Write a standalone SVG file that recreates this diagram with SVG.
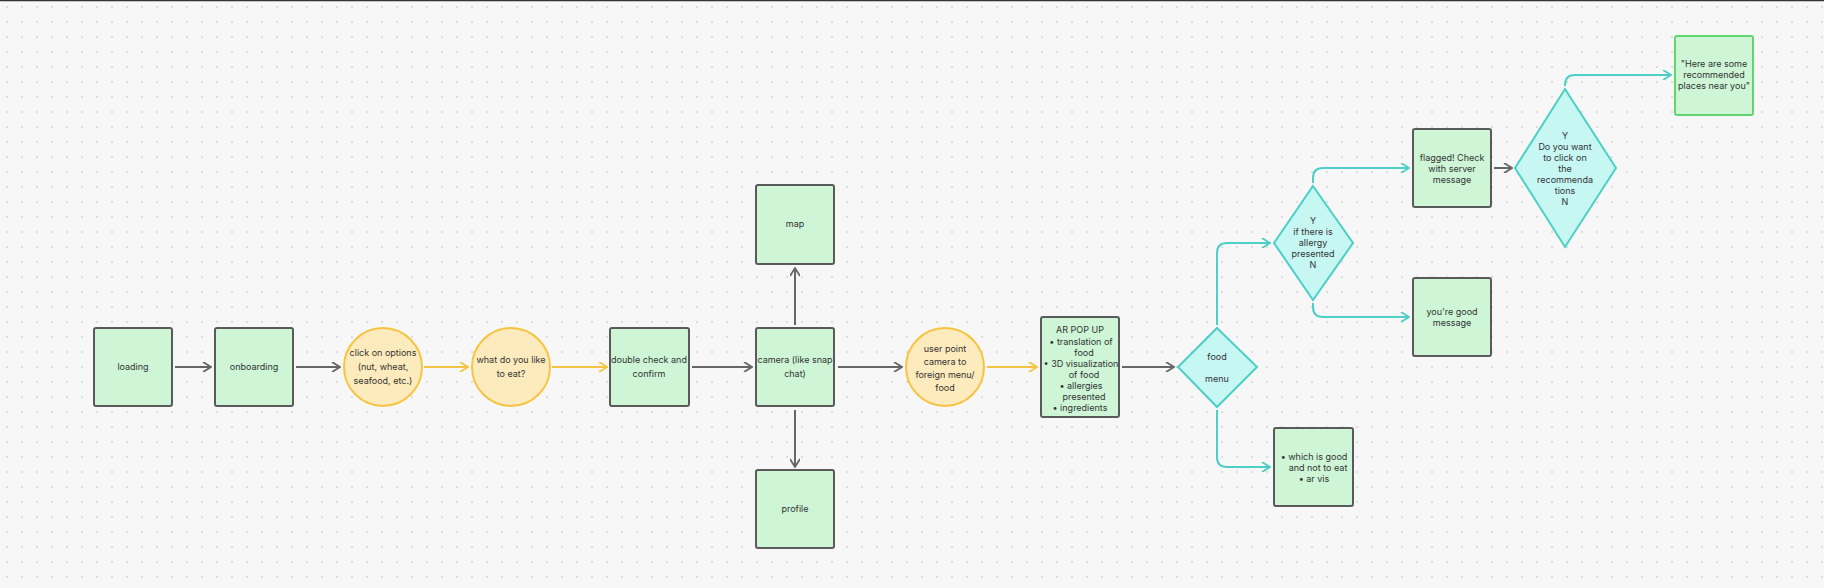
<svg xmlns="http://www.w3.org/2000/svg" width="1824" height="588" viewBox="0 0 1824 588">
<style>
.b{fill:#cdf5d6;stroke:#5a5a5a;stroke-width:2}
.y{fill:#feebbd;stroke:#f5c443;stroke-width:2}
.d{fill:#c6f7f3;stroke:#4ccfc6;stroke-width:2}
text{font-family:Inter,"Liberation Sans",sans-serif;font-size:9px;fill:#333;text-anchor:middle}
.g{fill:none;stroke:#666;stroke-width:2}
.yl{fill:none;stroke:#f5c443;stroke-width:2}
.c{fill:none;stroke:#4ccfc6;stroke-width:2}
</style>
<defs>
<pattern id="dots" width="15" height="15" patternUnits="userSpaceOnUse"><circle cx="7" cy="7" r="0.9" fill="#cfcfcf"/></pattern>
<marker id="ag" viewBox="0 0 10 10" refX="9" refY="5" markerWidth="10" markerHeight="10" markerUnits="userSpaceOnUse" orient="auto"><path d="M1 0L9 5L1 10" fill="none" stroke="#666" stroke-width="1.8"/></marker>
<marker id="ay" viewBox="0 0 10 10" refX="9" refY="5" markerWidth="10" markerHeight="10" markerUnits="userSpaceOnUse" orient="auto"><path d="M1 0L9 5L1 10" fill="none" stroke="#f5c443" stroke-width="1.8"/></marker>
<marker id="ac" viewBox="0 0 10 10" refX="9" refY="5" markerWidth="10" markerHeight="10" markerUnits="userSpaceOnUse" orient="auto"><path d="M1 0L9 5L1 10" fill="none" stroke="#4ccfc6" stroke-width="1.8"/></marker>
</defs>
<rect width="1824" height="588" fill="#f7f7f7"/>
<rect width="1824" height="588" fill="url(#dots)"/>
<line x1="0" y1="0.5" x2="1824" y2="0.5" stroke="#333" stroke-width="1.5"/>
<g id="connectors">
<path class="g" d="M175 367H211" marker-end="url(#ag)"/>
<path class="g" d="M296 367H340" marker-end="url(#ag)"/>
<path class="yl" d="M424 367H468" marker-end="url(#ay)"/>
<path class="yl" d="M552 367H607" marker-end="url(#ay)"/>
<path class="g" d="M692 367H752" marker-end="url(#ag)"/>
<path class="g" d="M795 325V268" marker-end="url(#ag)"/>
<path class="g" d="M795 410V467" marker-end="url(#ag)"/>
<path class="g" d="M838 367H902" marker-end="url(#ag)"/>
<path class="yl" d="M987 367H1037" marker-end="url(#ay)"/>
<path class="g" d="M1122 367H1174" marker-end="url(#ag)"/>
<path class="c" d="M1217 325V253Q1217 243 1227 243H1270" marker-end="url(#ac)"/>
<path class="c" d="M1217 410V457Q1217 467 1227 467H1270" marker-end="url(#ac)"/>
<path class="c" d="M1313 183V178Q1313 168 1323 168H1409" marker-end="url(#ac)"/>
<path class="c" d="M1313 303V307Q1313 317 1323 317H1409" marker-end="url(#ac)"/>
<path class="g" d="M1494 168H1512" marker-end="url(#ag)"/>
<path class="c" d="M1565 86V85Q1565 75 1575 75H1671" marker-end="url(#ac)"/>
</g>
<g id="loading"><rect class="b" x="94" y="328" width="78" height="78" rx="2"/><text x="133" y="370">loading</text></g>
<g id="onboarding"><rect class="b" x="215" y="328" width="78" height="78" rx="2"/><text x="254" y="370">onboarding</text></g>
<g id="options"><circle class="y" cx="383" cy="367" r="39"/><text x="383" y="356">click on options</text><text x="383" y="370">(nut, wheat,</text><text x="383" y="384">seafood, etc.)</text></g>
<g id="eat"><circle class="y" cx="511" cy="367" r="39"/><text x="511" y="363">what do you like</text><text x="511" y="377">to eat?</text></g>
<g id="confirm"><rect class="b" x="610" y="328" width="79" height="78" rx="2"/><text x="649" y="363">double check and</text><text x="649" y="377">confirm</text></g>
<g id="camera"><rect class="b" x="756" y="328" width="78" height="78" rx="2"/><text x="795" y="363">camera (like snap</text><text x="795" y="377">chat)</text></g>
<g id="map"><rect class="b" x="756" y="185" width="78" height="79" rx="2"/><text x="795" y="227">map</text></g>
<g id="profile"><rect class="b" x="756" y="470" width="78" height="78" rx="2"/><text x="795" y="512">profile</text></g>
<g id="point"><circle class="y" cx="945" cy="367" r="39"/><text x="945" y="352">user point</text><text x="945" y="365">camera to</text><text x="945" y="378">foreign menu/</text><text x="945" y="391">food</text></g>
<g id="ar"><rect class="b" x="1041" y="317" width="78" height="100" rx="2"/>
<text x="1080" y="333">AR POP UP</text>
<text x="1081" y="345">• translation of</text><text x="1084" y="356">food</text>
<text x="1081" y="367">• 3D visualization</text><text x="1084" y="378">of food</text>
<text x="1081" y="389">• allergies</text><text x="1084" y="400">presented</text>
<text x="1080" y="411">• ingredients</text></g>
<g id="food"><path class="d" d="M1217 328L1257 367L1217 407L1178 367Z"/><text x="1217" y="360">food</text><text x="1217" y="382">menu</text></g>
<g id="which"><rect class="b" x="1274" y="428" width="79" height="78" rx="2"/><text x="1314" y="460">• which is good</text><text x="1318" y="471">and not to eat</text><text x="1314" y="482">• ar vis</text></g>
<g id="allergy"><path class="d" d="M1313 186L1353 243L1313 300L1274 243Z"/><text x="1313" y="224">Y</text><text x="1313" y="235">if there is</text><text x="1313" y="246">allergy</text><text x="1313" y="257">presented</text><text x="1313" y="268">N</text></g>
<g id="flagged"><rect class="b" x="1413" y="129" width="78" height="78" rx="2"/><text x="1452" y="161">flagged! Check</text><text x="1452" y="172">with server</text><text x="1452" y="183">message</text></g>
<g id="good"><rect class="b" x="1413" y="278" width="78" height="78" rx="2"/><text x="1452" y="315">you're good</text><text x="1452" y="326">message</text></g>
<g id="rec"><path class="d" d="M1565 89L1616 168L1565 247L1515 168Z"/><text x="1565" y="139">Y</text><text x="1565" y="150">Do you want</text><text x="1565" y="161">to click on</text><text x="1565" y="172">the</text><text x="1565" y="183">recommenda</text><text x="1565" y="194">tions</text><text x="1565" y="205">N</text></g>
<g id="places"><rect class="b" x="1675" y="36" width="78" height="79" rx="2" style="stroke:#5fd66f"/><text x="1714" y="67">"Here are some</text><text x="1714" y="78">recommended</text><text x="1714" y="89">places near you"</text></g>
</svg>
